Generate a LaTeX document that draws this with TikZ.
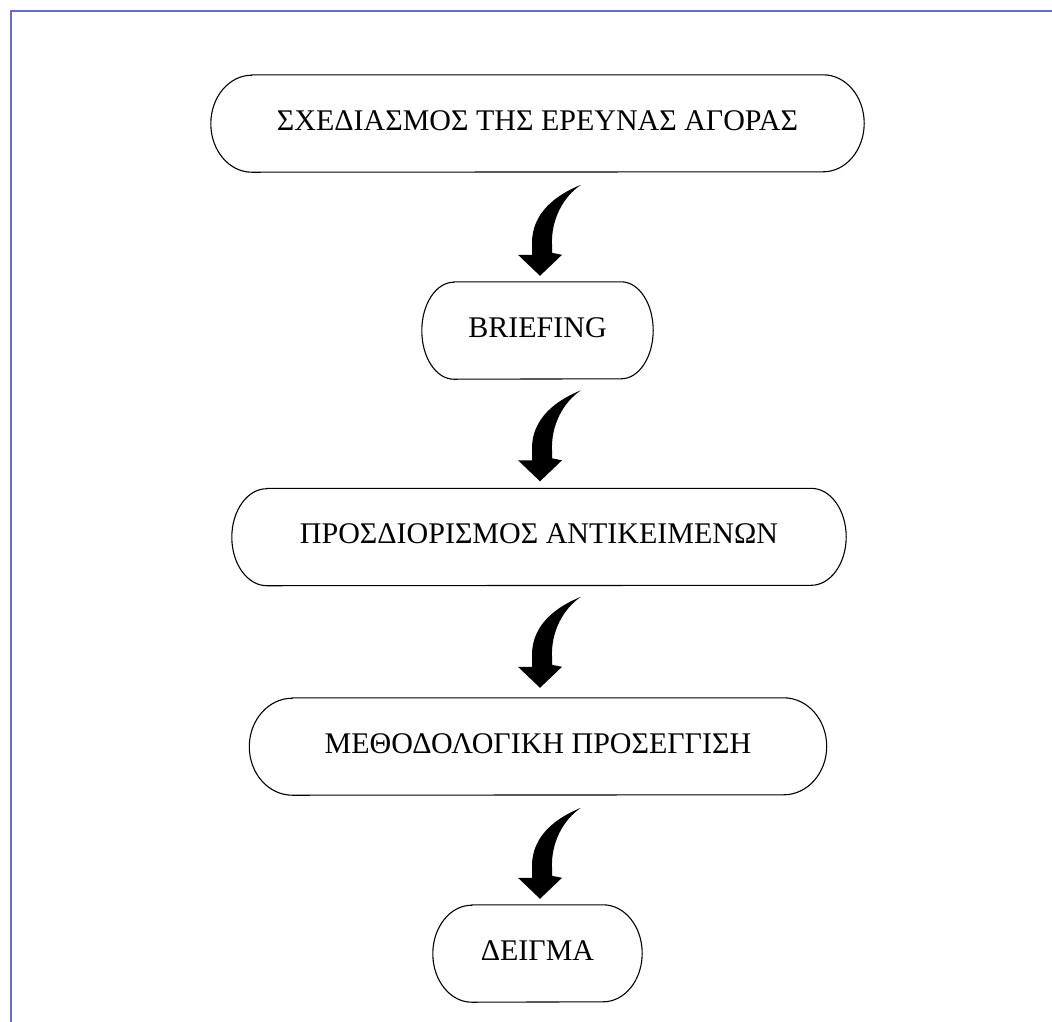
\documentclass[tikz,border=0pt]{standalone}
\usepackage{fontspec}
\setmainfont{Liberation Serif}
\usetikzlibrary{calc}
\definecolor{framecol}{RGB}{98,112,190}
\tikzset{
  term/.style={minimum height=97pt, inner sep=0pt, text depth=6pt, font=\fontsize{30}{36}\selectfont},
  boxline/.style={draw=black, line width=1.1pt},
  frameline/.style={draw=framecol, line width=1.8pt},
  pics/bentarrow/.style={code={
    \fill[black] (41,-91) .. controls (16,-81) and (-8,-63) .. (-8,-33)
      -- (-8,-21) -- (-22,-21) -- (0,0) -- (22,-21) -- (12,-23) -- (12,-31)
      .. controls (11,-56) and (23,-79) .. (41,-91) -- cycle;
  }}
}
\newcommand\termshape[2]{%
  \draw[boxline] ([xshift=#2]#1.north west) -- ([xshift=-#2]#1.north east)
    arc[start angle=90,end angle=-90,x radius=#2,y radius=48.5pt]
    -- ([xshift=#2]#1.south west)
    arc[start angle=270,end angle=90,x radius=#2,y radius=48.5pt] -- cycle;}
\begin{document}
\begin{tikzpicture}[x=1pt,y=-1pt]
\useasboundingbox (0,0) rectangle (1052,1021);
\draw[frameline] (11,1022) -- (11,10.7) -- (1053,10.7);

\node[term, minimum width=653pt] (b1) at (537.5,123.5) {ΣΧΕΔΙΑΣΜΟΣ ΤΗΣ ΕΡΕΥΝΑΣ ΑΓΟΡΑΣ};
\node[term, minimum width=231pt] (b2) at (537.5,330.5) {BRIEFING};
\node[term, minimum width=614pt] (b3) at (539,537) {ΠΡΟΣΔΙΟΡΙΣΜΟΣ ΑΝΤΙΚΕΙΜΕΝΩΝ};
\node[term, minimum width=577pt] (b4) at (538,746.5) {ΜΕΘΟΔΟΛΟΓΙΚΗ ΠΡΟΣΕΓΓΙΣΗ};
\node[term, minimum width=209pt] (b5) at (537.5,953.5) {ΔΕΙΓΜΑ};

\termshape{b1}{41pt}
\termshape{b2}{32pt}
\termshape{b3}{35pt}
\termshape{b4}{43pt}
\termshape{b5}{39pt}

\pic at ($(b2.north)+(2.5,-6)$) {bentarrow};
\pic at ($(b3.north)+(1,-7)$) {bentarrow};
\pic at ($(b4.north)+(2,-10)$) {bentarrow};
\pic at ($(b5.north)+(2.5,-6)$) {bentarrow};
\end{tikzpicture}
\end{document}
